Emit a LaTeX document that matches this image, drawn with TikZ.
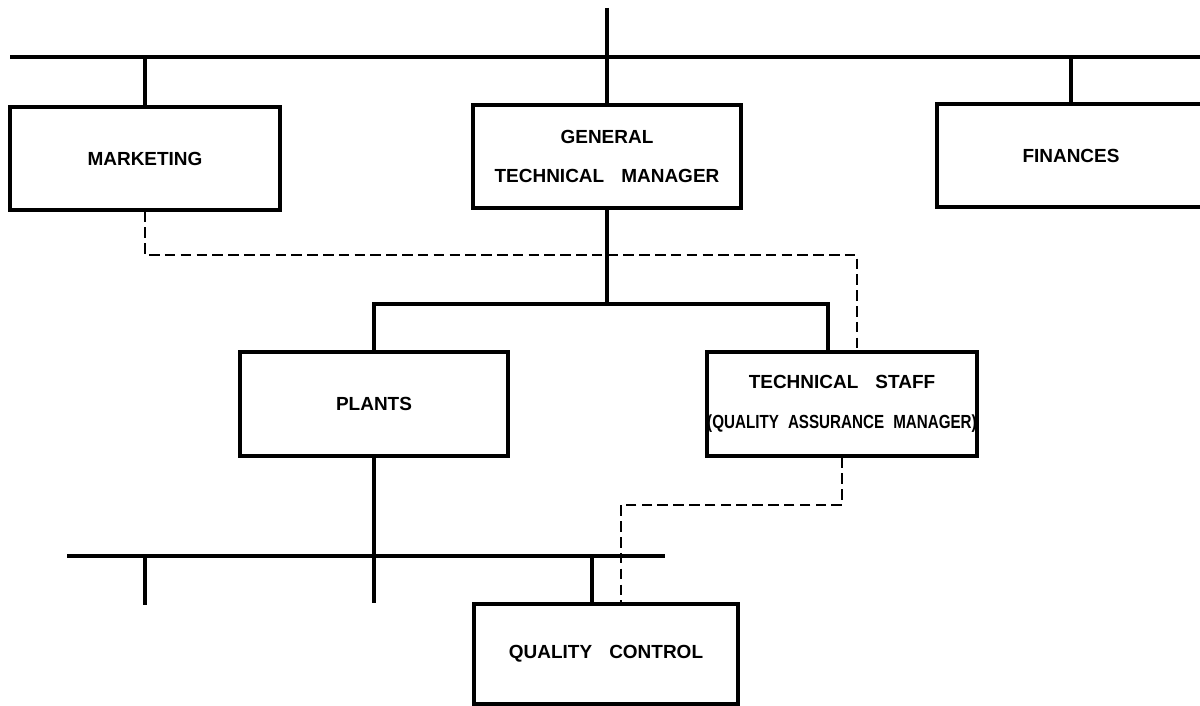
\documentclass[tikz,border=0pt]{standalone}
\usepackage{fontspec}
\usepackage{graphicx}
\setmainfont{Liberation Sans}
\usetikzlibrary{calc}
\begin{document}
\begin{tikzpicture}[x=0.02cm,y=-0.02cm,
  box/.style={draw, line width=1.9pt, rectangle, inner sep=0pt, align=center,
    font=\fontsize{10.8}{22.7}\selectfont\bfseries},
  conn/.style={line width=1.8pt},
  dconn/.style={line width=1.6pt, dash pattern=on 6pt off 3pt}]
\useasboundingbox (0,0) rectangle (1200,706);

\node[box, minimum width=5.4cm, minimum height=2.06cm] (mkt) at (145,158.5) {MARKETING};
\node[box, minimum width=5.36cm, minimum height=2.06cm] (gtm) at (607,156.5) {GENERAL\\TECHNICAL\hspace{0.9em}MANAGER};
\node[box, minimum width=5.36cm, minimum height=2.06cm] (fin) at (1071,155.5) {FINANCES};
\node[box, minimum width=5.36cm, minimum height=2.08cm] (plants) at (374,404) {PLANTS};
\node[box, minimum width=5.4cm, minimum height=2.08cm] (tech) at (842,404) {TECHNICAL\hspace{0.9em}STAFF\\\scalebox{0.8}[1]{(QUALITY\hspace{0.6em}ASSURANCE\hspace{0.6em}MANAGER)}};
\node[box, minimum width=5.28cm, minimum height=2cm] (qc) at (606,654) {QUALITY\hspace{0.9em}CONTROL};

% top bar
\coordinate (top) at (607,8);
\coordinate (barL) at (10,57);
\coordinate (barR) at (1200,57);
\draw[conn] (barL) -- (barR);
\draw[conn] (top) -- (gtm.north);
\draw[conn] (mkt.north) -- (mkt.north |- barL);
\draw[conn] (fin.north) -- (fin.north |- barL);

% GTM to plants and technical staff
\coordinate (midY) at (0,304);
\coordinate (tsIn) at (828,352);
\draw[conn] (gtm.south) -- (gtm.south |- midY);
\draw[conn] (plants.north) -- (plants.north |- midY) -- (tsIn |- midY) -- (tsIn);

% marketing dashed to technical staff
\coordinate (mktD) at (0,255);
\coordinate (tsD) at (857,352);
\draw[dconn] (mkt.south) -- (mkt.south |- mktD) -- (tsD |- mktD) -- (tsD);

% lower bar
\coordinate (plantEnd) at (374,603);
\draw[conn] (plants.south) -- (plantEnd);
\coordinate (lbarL) at (67,556);
\coordinate (lbarR) at (665,556);
\draw[conn] (lbarL) -- (lbarR);
\coordinate (tickEnd) at (145,605);
\draw[conn] (tickEnd |- lbarL) -- (tickEnd);
\coordinate (qcIn) at (592,604);
\draw[conn] (qcIn |- lbarL) -- (qcIn);

% technical staff dashed to quality control
\coordinate (qcD) at (621,604);
\coordinate (qcY) at (0,505);
\draw[dconn] (tech.south) -- (tech.south |- qcY) -- (qcD |- qcY) -- (qcD);
\end{tikzpicture}
\end{document}
